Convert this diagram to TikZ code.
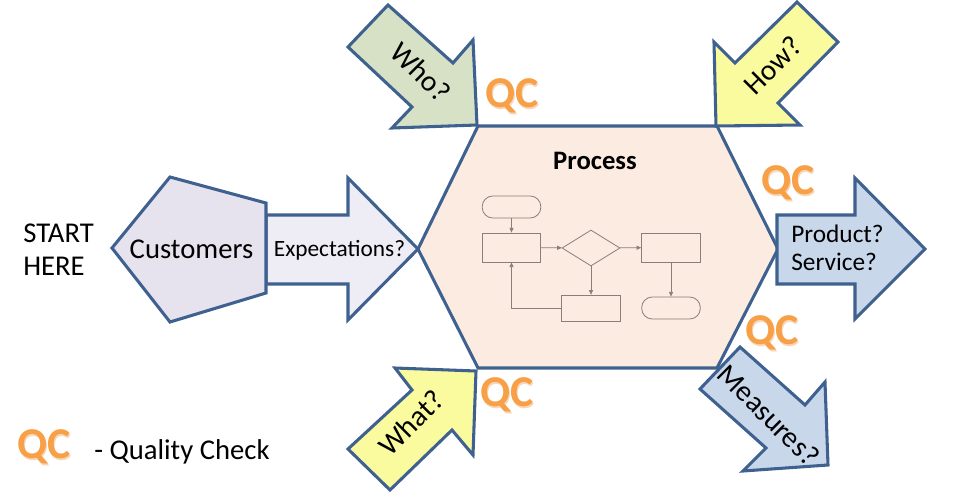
\documentclass[tikz,border=0pt]{standalone}
\usepackage{fontspec}
\setmainfont{Carlito}
\usetikzlibrary{arrows.meta,shapes.geometric}
\definecolor{bord}{HTML}{3F6190}
\definecolor{whofill}{HTML}{D7E1C6}
\definecolor{yel}{HTML}{FAFA9E}
\definecolor{blu}{HTML}{C9D7EB}
\definecolor{cust}{HTML}{E6E2EE}
\definecolor{expf}{HTML}{EEECF4}
\definecolor{hexf}{HTML}{FBEBE1}
\definecolor{flow}{HTML}{8A7F78}
\definecolor{qcorange}{HTML}{F7A048}
\definecolor{qcglow}{HTML}{F6D7B8}
\begin{document}
\begin{tikzpicture}[x=0.75pt,y=-0.75pt,
  shp/.style={draw=bord, line width=2.3pt, line join=miter},
  fc/.style={draw=flow, line width=0.6pt, -{Triangle[length=3.5pt,width=3pt]}},
  fbox/.style={draw=flow, line width=0.6pt, minimum width=44pt, minimum height=21.75pt, inner sep=0},
  term/.style={fbox, rounded corners=8pt, minimum height=16.5pt},
  lbl/.style={font=\fontsize{21.5}{24}\selectfont, inner sep=0},
  albl/.style={font=\fontsize{22}{24}\selectfont, inner sep=0},
  qcsty/.style={font=\fontsize{33}{33}\selectfont\bfseries, text=qcorange, inner sep=0},
  qcsh/.style={font=\fontsize{33}{33}\selectfont\bfseries, text=qcglow, inner sep=0, xshift=1pt, yshift=-1pt}]
\useasboundingbox (0,0) rectangle (957,497);

% process hexagon
\draw[shp, fill=hexf] (478,126) -- (717,126) -- (778,249) -- (717,368) -- (478,368) -- (418,249) -- cycle;
\node[font=\fontsize{20}{20}\selectfont\bfseries, anchor=base, inner sep=0] (proc) at (595,169) {Process};

% flowchart
\node[term] (t1) at (511.5,207) {};
\node[fbox] (r1) at (511.5,247.5) {};
\node[diamond, draw=flow, line width=0.6pt, minimum width=43.5pt, minimum height=27pt, aspect=1.6, inner sep=0] (dd) at (591,248) {};
\node[fbox] (r2) at (671,247.5) {};
\node[term] (t2) at (671,308) {};
\node[fbox, minimum height=20pt] (r3) at (591,308.5) {};
\draw[fc] (t1) -- (r1);
\draw[fc] (r1) -- (dd);
\draw[fc] (dd) -- (r2);
\draw[fc] (r2) -- (t2);
\draw[fc] (dd) -- (r3);
\draw[fc] (r3.west) -| (r1.south);

% expectations arrow and customers pentagon
\draw[shp, fill=expf] (266,215) -- (348,215) -- (348,178) -- (418,249) -- (348,320) -- (348,284) -- (266,284) -- cycle;
\draw[shp, fill=cust] (170,177) -- (266,203) -- (266,293) -- (170,322) -- (112,248) -- cycle;
\node[lbl] (custl) at (191.5,249) {Customers};
\node[font=\fontsize{17.5}{20}\selectfont, inner sep=0] (expl) at (339.5,250) {Expectations?};

% product arrow
\draw[shp, fill=blu] (777,215) -- (855,215) -- (855,178) -- (925,249) -- (855,319) -- (855,284) -- (777,284) -- cycle;
\node[font=\fontsize{19}{21}\selectfont, inner sep=0, anchor=base west] (prod) at (791,242) {Product?};
\node[font=\fontsize{19}{21}\selectfont, inner sep=0, anchor=base west] (serv) at (791,270) {Service?};

% who arrow
\draw[shp, fill=whofill] (388,5) -- (348,47) -- (412,107) -- (392,128) -- (477,125) -- (473,40) -- (453,63) -- cycle;
\node[albl, rotate=-45] (who) at (421,72) {Who?};
% how arrow
\draw[shp, fill=yel] (797,2) -- (838,42) -- (778,103) -- (800,125) -- (716,126) -- (714,42) -- (735,63) -- cycle;
\node[albl, rotate=45] (how) at (773,65) {How?};
% measures arrow
\draw[shp, fill=blu] (740,347) -- (700,389) -- (766,448) -- (743,471) -- (828,465) -- (825,382) -- (805,405) -- cycle;
\node[albl, rotate=-45] (meas) at (769,415) {Measures?};
% what arrow
\draw[shp, fill=yel] (476,371) -- (395,368) -- (412,390) -- (348,449) -- (390,490) -- (452,430) -- (473,455) -- cycle;
\node[albl, rotate=45] (what) at (411,423) {What?};

% QC marks
\node[qcsh] (qas) at (512,96) {QC};
\node[qcsty] (qa) at (512,96) {QC};
\node[qcsh] (qbs) at (788,183) {QC};
\node[qcsty] (qb) at (788,183) {QC};
\node[qcsh] (qcs) at (772,333) {QC};
\node[qcsty] (qc) at (772,333) {QC};
\node[qcsh] (qds) at (507,395) {QC};
\node[qcsty] (qd) at (507,395) {QC};
\node[qcsh] (qes) at (44,447) {QC};
\node[qcsty] (qe) at (44,447) {QC};

% start here and legend
\node[lbl, anchor=base west] (start) at (23,242) {START};
\node[lbl, anchor=base west] (here) at (23,275) {HERE};
\node[lbl, anchor=base west] (leg) at (94,459) {- Quality Check};
\end{tikzpicture}
\end{document}
